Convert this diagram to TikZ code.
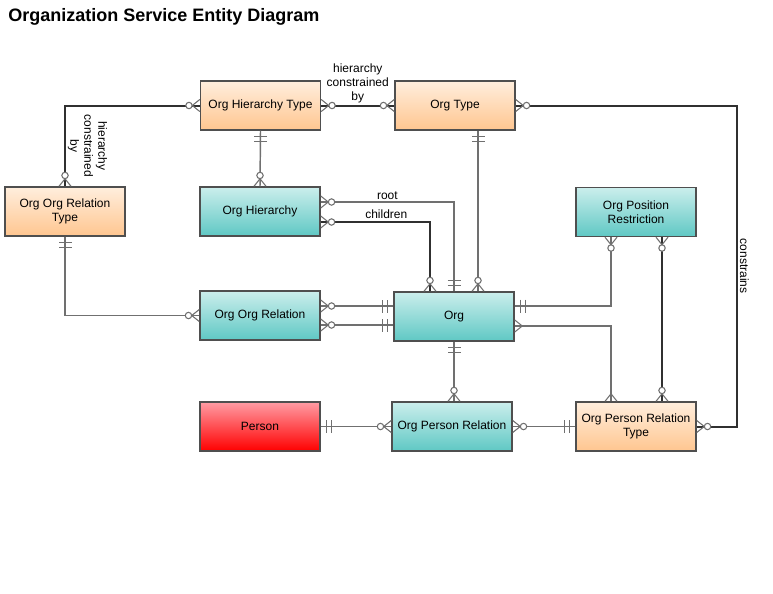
\documentclass[tikz,border=0pt]{standalone}
\usepackage{fontspec}
\setmainfont{Liberation Sans}
\definecolor{boxline}{HTML}{4F4F4F}
\definecolor{peachtop}{HTML}{FFEEDD}
\definecolor{peachbot}{HTML}{FFC690}
\definecolor{tealtop}{HTML}{CBEEEC}
\definecolor{tealbot}{HTML}{5FC8C4}
\definecolor{redtop}{HTML}{FF9CA4}
\definecolor{redbot}{HTML}{FF0000}
\definecolor{relgray}{HTML}{707070}
\definecolor{reldark}{HTML}{303030}
\tikzset{
  entity/.style={draw=boxline, line width=1.1pt, minimum width=90pt, minimum height=36.75pt,
    align=center, inner sep=1pt, font=\fontsize{9}{10.5}\selectfont},
  peachbox/.style={entity, top color=peachtop, bottom color=peachbot},
  tealbox/.style={entity, top color=tealtop, bottom color=tealbot},
  redbox/.style={entity, top color=redtop, bottom color=redbot},
  rel/.style={line width=1.1pt, draw=relgray},
  relbold/.style={line width=1.5pt, draw=reldark},
  lbl/.style={font=\fontsize{9}{10.5}\selectfont, align=center, inner sep=1.5pt, text=black},
  zmany/.pic={\draw[relgray, line width=0.8pt] (0,-6) -- (7.5,0) -- (0,6);
    \draw[relgray, line width=0.8pt, fill=white] (10.8,0) circle (3.2);},
  many/.pic={\draw[relgray, line width=0.8pt] (0,-6) -- (7.5,0) -- (0,6);},
  bars/.pic={\draw[relgray, line width=0.9pt] (6,-6.5) -- (6,6.5) (11,-6.5) -- (11,6.5);}
}
\begin{document}
\begin{tikzpicture}[x=0.75pt,y=-0.75pt]
\useasboundingbox (0,0) rectangle (773,593);
\node[anchor=base west, inner sep=0pt, font=\fontsize{13.5}{16}\selectfont\bfseries] (title) at (8,21) {Organization Service Entity Diagram};

\node[peachbox] (oht) at (260.5,105.5) {Org Hierarchy Type};
\node[peachbox] (ot) at (455,105.5) {Org Type};
\node[peachbox] (oort) at (65,211.5) {Org Org Relation\\Type};
\node[tealbox] (oh) at (260,211.5) {Org Hierarchy};
\node[tealbox] (opr) at (636,212) {Org Position\\Restriction};
\node[tealbox] (oor) at (260,315.5) {Org Org Relation};
\node[tealbox] (org) at (454,316.5) {Org};
\node[redbox] (person) at (260,426.5) {Person};
\node[tealbox] (operr) at (452,426.5) {Org Person Relation};
\node[peachbox] (oprt) at (636,426.5) {Org Person Relation\\Type};

\draw[relbold] (oht.west) -| node[pos=0.75, rotate=-90, anchor=south, lbl] {hierarchy\\constrained\\by} (oort.north);
\draw[relbold] (oht.east) -- node[above, lbl] {hierarchy\\constrained\\by} (ot.west);
\draw[relbold] (ot.east) -- (ot.east -| 737,0) -- node[rotate=-90, anchor=south, lbl] {constrains} (oprt.east -| 737,0) -- (oprt.east);
\draw[rel] (oht.south) -- (oh.north);
\draw[rel] (ot.south -| 478,0) -- (org.north -| 478,0);
\draw[rel] (oh.east |- 0,202) -| node[pos=0.25, above, lbl] {root} (org.north);
\draw[relbold] (oh.east |- 0,222) -| node[pos=0.3, above, lbl] {children} (org.north -| 430,0);
\draw[rel] (oort.south) |- (oor.west);
\draw[rel] (oor.east |- 0,306) -- (org.west |- 0,306);
\draw[rel] (oor.east |- 0,325) -- (org.west |- 0,325);
\draw[rel] (org.east |- 0,306) -| (opr.south -| 611,0);
\draw[rel] (org.east |- 0,326) -| (oprt.north -| 611,0);
\draw[relbold] (opr.south -| 662,0) -- (oprt.north -| 662,0);
\draw[rel] (org.south) -- (org.south |- operr.north);
\draw[rel] (person.east) -- (operr.west);
\draw[rel] (operr.east) -- (oprt.west);

\pic[rotate=180] at (oht.west) {zmany};
\pic[rotate=90] at (oort.north) {zmany};
\pic at (oht.east) {zmany};
\pic[rotate=180] at (ot.west) {zmany};
\pic at (ot.east) {zmany};
\pic at (oprt.east) {zmany};
\pic[rotate=-90] at (oht.south) {bars};
\pic[rotate=90] at (oh.north) {zmany};
\pic[rotate=-90] at (ot.south -| 478,0) {bars};
\pic[rotate=90] at (org.north -| 478,0) {zmany};
\pic at (oh.east |- 0,202) {zmany};
\pic[rotate=90] at (org.north) {bars};
\pic at (oh.east |- 0,222) {zmany};
\pic[rotate=90] at (org.north -| 430,0) {zmany};
\pic[rotate=-90] at (oort.south) {bars};
\pic[rotate=180] at (oor.west) {zmany};
\pic at (oor.east |- 0,306) {zmany};
\pic at (oor.east |- 0,325) {zmany};
\pic[rotate=180] at (org.west |- 0,306) {bars};
\pic[rotate=180] at (org.west |- 0,325) {bars};
\pic at (org.east |- 0,306) {bars};
\pic[rotate=-90] at (opr.south -| 611,0) {zmany};
\pic at (org.east |- 0,326) {many};
\pic[rotate=90] at (oprt.north -| 611,0) {many};
\pic[rotate=-90] at (opr.south -| 662,0) {zmany};
\pic[rotate=90] at (oprt.north -| 662,0) {zmany};
\pic[rotate=-90] at (org.south) {bars};
\pic[rotate=90] at (org.south |- operr.north) {zmany};
\pic at (person.east) {bars};
\pic[rotate=180] at (operr.west) {zmany};
\pic at (operr.east) {zmany};
\pic[rotate=180] at (oprt.west) {bars};
\end{tikzpicture}
\end{document}
